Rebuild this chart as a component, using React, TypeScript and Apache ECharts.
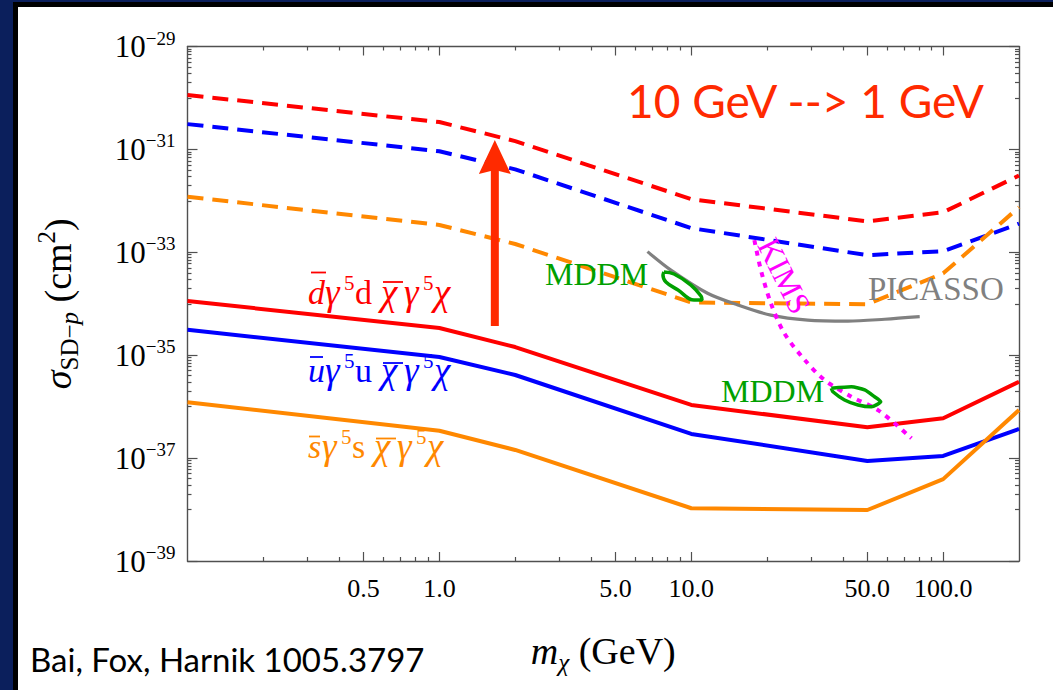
import React, { useEffect, useRef } from "react";
import * as echarts from "echarts";

// ---------------- data ----------------
const masses = [0.1, 1, 2, 10, 50, 100, 200];
const dQuarkSolid = [1.13e-34, 3.38e-35, 1.44e-35, 1.08e-36, 3.98e-37, 5.94e-37, 3.05e-36];
const uQuarkSolid = [3.13e-35, 9.2e-36, 4.12e-36, 2.95e-37, 8.8e-38, 1.1e-37, 3.68e-37];
const sQuarkSolid = [1.22e-36, 3.41e-37, 1.44e-37, 1.06e-38, 9.8e-39, 3.9e-38, 8.6e-37];
const dQuarkDashed = [1.14e-30, 3.4e-31, 1.45e-31, 1.08e-32, 4.0e-33, 6.0e-33, 3.1e-32];
const uQuarkDashed = [3.1e-31, 9.2e-32, 4.1e-32, 2.95e-33, 8.8e-34, 1.05e-33, 3.6e-33];
const sQuarkDashed = [1.2e-32, 3.4e-33, 1.45e-33, 1.06e-34, 9.8e-35, 3.9e-34, 7.5e-33];

const picassoMass = [6.7, 8.3, 11.6, 15.3, 20.7, 29, 41.9, 58.6, 80.7];
const picassoSigma = [1.03e-33, 4.5e-34, 1.6e-34, 9.5e-35, 6.0e-35, 4.8e-35, 4.6e-35, 5.0e-35, 5.6e-35];

const kimsMass = [17.8, 18.9, 20.7, 23.4, 28.2, 33.8, 43.2, 55.1, 74.8];
const kimsSigma = [1.73e-33, 4.5e-34, 1.02e-34, 2.67e-35, 8.1e-36, 3.3e-36, 1.56e-36, 8.6e-37, 2.43e-37];

const mddmHighMass = [7.79, 8.54, 9.97, 10.93, 11.03, 10.25, 8.86, 7.93, 7.72, 7.79];
const mddmHighSigma = [4.14e-34, 3.79e-34, 2.31e-34, 1.41e-34, 1.18e-34, 1.18e-34, 1.85e-34, 2.65e-34, 3.62e-34, 4.14e-34];
const mddmLowMass = [35.96, 43.2, 48.8, 53.4, 56.5, 51.9, 45.9, 40.6, 36.5, 35.96];
const mddmLowSigma = [2.28e-36, 2.44e-36, 2.11e-36, 1.56e-36, 1.25e-36, 9.97e-37, 1.08e-36, 1.35e-36, 1.95e-36, 2.28e-36];

const arrowMass = [1.66];
const arrowBase = [3.7e-35];
const arrowTip = [1.52e-31];

// ticks
const xMajorTicks = [0.5, 1, 5, 10, 50, 100];
const xMinorTicks = [0.2, 0.3, 0.4, 0.6, 0.7, 0.8, 0.9, 2, 3, 4, 6, 7, 8, 9, 20, 30, 40, 60, 70, 80, 90];
const yLabelTicks = [1e-39, 1e-37, 1e-35, 1e-33, 1e-31, 1e-29];
const yMinorDecades = [1e-38, 1e-36, 1e-34, 1e-32, 1e-30];
const yMinorMultipliers = [1, 2, 3, 4, 5, 6, 7, 8, 9];
const yMin = 1e-39;
const yMax = 1e-29;

// texts
const titleText = "10 GeV --> 1 GeV";
const citeText = "Bai, Fox, Harnik 1005.3797";

const SERIF = '"Liberation Serif", "Times New Roman", "DejaVu Serif", serif';
const SANS = 'Lato, "Open Sans", "Noto Sans", sans-serif';
const AX = "#505050";
const RED = "#ff0000";
const BLUE = "#0000ff";
const ORANGE = "#ff8800";
const GRAY = "#808080";
const GREEN = "#00a000";
const MAGENTA = "#ff00ff";
const ARROW = "#ff2a00";

// the log axis works in units of 1e-39 cm^2 (ECharts rounds tiny tick values to 0)
const Y_UNIT = 1e-39;
const Y_UNIT_EXP = -39;
const toUnit = (v: number) => v / Y_UNIT;
const decadeToUnit = (v: number) => Math.pow(10, Math.round(Math.log10(v / Y_UNIT)));
const pairs = (xs: number[], ys: number[]) => xs.map((x, i) => [x, toUnit(ys[i])]);

export default function App() {
  const ref = useRef<HTMLDivElement>(null);

  useEffect(() => {
    document.body.style.margin = "0";
    const chart = echarts.init(ref.current!, undefined, { renderer: "svg" });

    const yMajor = yLabelTicks.map(decadeToUnit);
    const yMinor: number[] = [];
    yMinorDecades.forEach((d) => yMinorMultipliers.forEach((k) => yMinor.push(k * decadeToUnit(d))));

    const common = {
      splitLine: { show: false },
      minorTick: { show: false },
      minorSplitLine: { show: false },
      nameMoveOverlap: false,
    };
    const xBase = { type: "log" as const, logBase: 10, min: 0.1, max: 200, ...common };
    const yBase = { type: "log" as const, logBase: 10, min: decadeToUnit(yMin), max: decadeToUnit(yMax), ...common };
    const lineOn = { show: true, onZero: false, lineStyle: { color: AX, width: 1.4 } };
    const lineOff = { show: false, onZero: false };
    const tick = (vals: number[], len: number) => ({
      show: true,
      inside: true,
      length: len,
      customValues: vals,
      lineStyle: { color: AX, width: 1.2 },
    });
    const noLabel = { show: false };

    const nameRich = {
      it: { fontFamily: SERIF, fontStyle: "italic", fontSize: 38, color: "#000", lineHeight: 48 },
      rm: { fontFamily: SERIF, fontSize: 38, color: "#000", lineHeight: 48 },
      sub: { fontFamily: SERIF, fontSize: 25, color: "#000", lineHeight: 22, verticalAlign: "bottom" },
      subit: { fontFamily: SERIF, fontStyle: "italic", fontSize: 25, color: "#000", lineHeight: 22, verticalAlign: "bottom" },
      sup: { fontFamily: SERIF, fontSize: 25, color: "#000", lineHeight: 22, verticalAlign: "top" },
    };

    // curve labels: fixed-width rich tokens; overlines are drawn as short lines
    // widths: [quark, gamma, 5, quark, space, chi, gamma, 5, chi]
    const curveRich = (color: string, w: number[]) => {
      const it = (wd: number, fs: number) => ({ fontFamily: SERIF, fontStyle: "italic", fontSize: fs, fill: color, width: wd, lineHeight: 40 });
      const rm = (wd: number) => ({ fontFamily: SERIF, fontSize: 34, fill: color, width: wd, lineHeight: 40 });
      const sup = (wd: number) => ({ fontFamily: SERIF, fontSize: 21, fill: color, width: wd, lineHeight: 22, verticalAlign: "top" });
      return {
        q1: it(w[0], 34),
        g1: it(w[1], 37),
        s1: sup(w[2]),
        q2: rm(w[3]),
        sp: rm(w[4]),
        c1: it(w[5], 37),
        g2: it(w[6], 37),
        s2: sup(w[7]),
        c2: it(w[8], 37),
      };
    };
    const curveText = (q: string) =>
      `{q1|${q}}{g1|γ}{s1|5}{q2|${q}}{sp| }{c1|χ}{g2|γ}{s2|5}{c2|χ}`;
    const bar = (x1: number, x2: number, y: number, color: string) => ({
      type: "line",
      z: 50,
      silent: true,
      shape: { x1, y1: y, x2, y2: y },
      style: { stroke: color, lineWidth: 1.8 },
    });

    const text = (x: number, y: number, t: string, fontFamily: string, fontSize: number, fill: string, extra: any = {}) => ({
      type: "text",
      z: 50,
      x,
      y,
      silent: true,
      ...extra,
      style: { text: t, fontFamily, fontSize, fill, align: extra.align || "left", verticalAlign: "middle" },
    });

    const option: any = {
      animation: false,
      backgroundColor: "#0b1f5c",
      grid: { left: 187.5, top: 46.5, width: 831.5, height: 514.5, outerBoundsMode: "none", containLabel: false },
      xAxis: [
        {
          ...xBase,
          position: "bottom",
          axisLine: lineOn,
          axisTick: tick(xMajorTicks, 9),
          axisLabel: {
            show: true,
            customValues: xMajorTicks,
            formatter: (v: number) => Number(v).toFixed(1),
            margin: 14,
            fontFamily: SERIF,
            fontSize: 26,
            color: "#000",
          },
          name: "{it|m}{subit|χ}{rm| (GeV)}",
          nameLocation: "middle",
          nameGap: 66,
          nameTextStyle: { rich: nameRich, verticalAlign: "top" },
        },
        { ...xBase, position: "bottom", axisLine: lineOff, axisTick: tick(xMinorTicks, 4), axisLabel: noLabel },
        { ...xBase, position: "top", axisLine: lineOn, axisTick: tick(xMajorTicks, 9), axisLabel: noLabel },
        { ...xBase, position: "top", axisLine: lineOff, axisTick: tick(xMinorTicks, 4), axisLabel: noLabel },
      ],
      yAxis: [
        {
          ...yBase,
          position: "left",
          axisLine: lineOn,
          axisTick: tick(yMajor, 10),
          axisLabel: {
            show: true,
            customValues: yMajor,
            margin: 12,
            formatter: (v: number) => `{b|10}{s|−${-(Math.round(Math.log10(v)) + Y_UNIT_EXP)}}`,
            rich: {
              b: { fontFamily: SERIF, fontSize: 31, color: "#000", lineHeight: 36 },
              s: { fontFamily: SERIF, fontSize: 19, color: "#000", lineHeight: 20, verticalAlign: "top" },
            },
          },
          name: "{it|σ}{sub|SD−}{subit|p}{rm| (cm}{sup|2}{rm|)}",
          nameLocation: "middle",
          nameRotate: 90,
          nameGap: 106,
          nameTextStyle: { rich: nameRich },
        },
        { ...yBase, position: "left", axisLine: lineOff, axisTick: tick(yMinor, 4), axisLabel: noLabel },
        { ...yBase, position: "right", axisLine: lineOn, axisTick: tick(yMajor, 10), axisLabel: noLabel },
        { ...yBase, position: "right", axisLine: lineOff, axisTick: tick(yMinor, 4), axisLabel: noLabel },
      ],
      series: [
        ...[
          { d: dQuarkDashed, c: RED, dash: true },
          { d: uQuarkDashed, c: BLUE, dash: true },
          { d: sQuarkDashed, c: ORANGE, dash: true },
          { d: dQuarkSolid, c: RED, dash: false },
          { d: uQuarkSolid, c: BLUE, dash: false },
          { d: sQuarkSolid, c: ORANGE, dash: false },
        ].map((s) => ({
          type: "line",
          xAxisIndex: 0,
          yAxisIndex: 0,
          data: pairs(masses, s.d),
          symbol: "none",
          silent: true,
          lineStyle: { color: s.c, width: 4, type: s.dash ? [16, 9] : "solid", cap: "butt" },
          z: 3,
        })),
        {
          type: "line",
          data: pairs(picassoMass, picassoSigma),
          symbol: "none",
          smooth: 0.3,
          silent: true,
          lineStyle: { color: GRAY, width: 3.2 },
          z: 4,
        },
        {
          type: "line",
          data: pairs(kimsMass, kimsSigma),
          symbol: "none",
          smooth: 0.3,
          silent: true,
          lineStyle: { color: MAGENTA, width: 4, type: [5, 6] },
          z: 4,
        },
        {
          type: "line",
          data: pairs(mddmHighMass, mddmHighSigma),
          symbol: "none",
          smooth: 0.4,
          silent: true,
          lineStyle: { color: GREEN, width: 3.5 },
          z: 5,
        },
        {
          type: "line",
          data: pairs(mddmLowMass, mddmLowSigma),
          symbol: "none",
          smooth: 0.2,
          silent: true,
          lineStyle: { color: GREEN, width: 3.5 },
          z: 5,
        },
        {
          type: "custom",
          silent: true,
          z: 6,
          data: arrowMass.map((m, i) => [m, toUnit(arrowBase[i]), toUnit(arrowTip[i])]),
          encode: { x: 0, y: [1, 2] },
          renderItem: (_p: any, api: any) => {
            const b = api.coord([api.value(0), api.value(1)]);
            const t = api.coord([api.value(0), api.value(2)]);
            const hw = 16;
            const hh = 34;
            return {
              type: "group",
              children: [
                {
                  type: "rect",
                  shape: { x: b[0] - 4, y: t[1] + hh - 4, width: 8, height: b[1] - (t[1] + hh - 4) },
                  style: { fill: ARROW },
                },
                {
                  type: "polygon",
                  shape: {
                    points: [
                      [t[0], t[1]],
                      [t[0] + hw, t[1] + hh],
                      [t[0], t[1] + hh - 4],
                      [t[0] - hw, t[1] + hh],
                    ],
                  },
                  style: { fill: ARROW },
                },
              ],
            };
          },
        },
      ],
      graphic: [
        { type: "rect", z: -10, silent: true, shape: { x: 13, y: 2, width: 1100, height: 720 }, style: { fill: "#000" } },
        { type: "rect", z: -9, silent: true, shape: { x: 18, y: 7, width: 1100, height: 720 }, style: { fill: "#fff" } },
        text(627, 100, titleText, SANS, 46, ARROW),
        text(30, 659, citeText, SANS, 33, "#000"),
        {
          type: "text", z: 50, x: 308, y: 292, silent: true,
          style: { text: curveText("d"), rich: curveRich(RED, [17, 19, 11, 18, 8, 23, 19, 11, 24]), align: "left", verticalAlign: "middle" },
        },
        bar(311, 326, 272.5, RED),
        bar(383, 403, 282, RED),
        {
          type: "text", z: 50, x: 308, y: 370, silent: true,
          style: { text: curveText("u"), rich: curveRich(BLUE, [17, 19, 11, 18, 8, 23, 19, 11, 22]), align: "left", verticalAlign: "middle" },
        },
        bar(310, 323, 357, BLUE),
        bar(383, 403, 363, BLUE),
        {
          type: "text", z: 50, x: 308, y: 446, silent: true,
          style: { text: curveText("s"), rich: curveRich(ORANGE, [14, 19, 11, 14, 8, 23, 19, 11, 22]), align: "left", verticalAlign: "middle" },
        },
        bar(309, 320, 436.5, ORANGE),
        bar(376, 396, 438.5, ORANGE),
        text(545, 274, "MDDM", SERIF, 32, GREEN),
        text(721, 391, "MDDM", SERIF, 32, GREEN),
        text(868, 289, "PICASSO", SERIF, 33, GRAY),
        text(784, 276, "KIMS", SERIF, 32, MAGENTA, { rotation: -1.107, align: "center" }),
      ],
    };

    chart.setOption(option);
    return () => chart.dispose();
  }, []);

  return <div ref={ref} style={{ position: "absolute", left: 0, top: 0, width: 1053, height: 690 }} />;
}
